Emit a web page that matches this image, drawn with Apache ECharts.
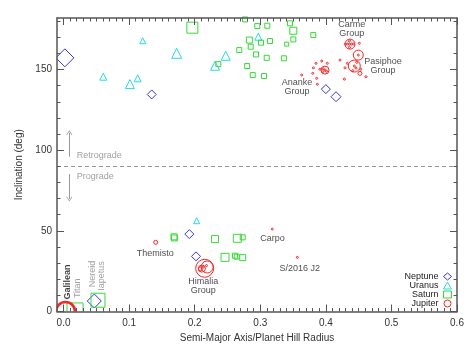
<!DOCTYPE html>
<html><head><meta charset="utf-8">
<script src="https://cdn.jsdelivr.net/npm/echarts@6/dist/echarts.min.js"></script>
<style>html,body{margin:0;padding:0;background:#fff}#c{width:474px;height:349px}</style>
</head><body><div id="c"></div>
<script>
// [semi-major axis / Hill radius, inclination (deg), relative marker scale]
const neptune = [[0.002,157.3,18],[0.1344,134.6,9],[0.400,137.9,9],[0.4155,133.2,10],[0.1918,48.0,9],[0.202,34.2,9],[0.0469,6.5,14]];
const uranus = [[0.0606,145.6,7],[0.1013,141.0,9],[0.113,144.6,7],[0.1207,167.9,6],[0.1725,160.1,10],[0.2473,158.6,9],[0.231,152.4,9],[0.297,170.4,7],[0.203,56.3,6]];
const saturn = [[0.1964,176.0,11],[0.2767,181.1,5],[0.2955,177.0,5],[0.3107,177.2,5],[0.3453,178.7,5],[0.3504,174.1,7],[0.3809,171.4,5],[0.3504,168.7,5],[0.3403,165.8,4],[0.2833,168.3,6],[0.3011,166.7,5],[0.3148,167.7,5],[0.2854,164.2,5],[0.268,162.1,5],[0.2935,159.4,5],[0.3098,157.3,5],[0.336,157.0,5],[0.236,153.4,5],[0.280,152.2,5],[0.2885,146.6,5],[0.3057,146.0,5],
  [0.1684,46.3,6],[0.169,45.6,6],[0.231,44.9,7],[0.265,45.4,8],[0.2732,46.0,5],[0.2462,33.6,8],[0.2615,34.6,5],[0.264,34.0,5],[0.2732,33.4,6],
  [0.0175,0.35,16],[0.0525,7.0,14]];
const jupiter = [[0.4368,165.8,10],[0.4495,159.0,10],[0.4434,152.2,12],[0.452,147.7,4],[0.3987,149.7,8],
  [0.2152,26.8,18],[0.219,27.6,12],[0.211,26.6,7],[0.2085,26.5,4],[0.1405,42.9,4],
  [0.3183,51.1,2],[0.3565,33.6,2],
  [0.430,165.8,2],[0.433,165.8,2],[0.436,165.8,2],[0.439,165.8,2],[0.442,165.9,2],[0.436,167.8,2],[0.436,163.8,2],
  [0.451,166.3,2],[0.4216,155.9,2],[0.4327,153.9,2],[0.4292,151.1,2],[0.447,154.5,2],[0.4532,150.2,2],[0.4612,145.6,2],[0.4282,144.1,2],[0.441,149.3,2],[0.4495,159.0,2],[0.4434,152.2,2],[0.446,151.0,2],
  [0.3632,146.6,2],[0.381,151.1,2],[0.380,147.7,2],[0.385,153.9,2],[0.3937,155.3,2],[0.4022,153.9,2],[0.391,150.2,2],[0.395,148.7,2],[0.386,144.6,2],[0.387,140.9,2],[0.3987,149.7,2],[0.396,150.5,2],[0.401,149.0,2],
  [0.213,27.5,2],[0.218,28.5,2]];
const galilean = [[0.003,0,19]];
const xMajor = [0,0.1,0.2,0.3,0.4,0.5,0.6];
const yMajor = [0,50,100,150];
const groupLabels = [
  {name:'Carme\nGroup', value:[0.4394,175.1]},
  {name:'Pasiphoe\nGroup', value:[0.487,152.5]},
  {name:'Ananke\nGroup', value:[0.356,138.9]},
  {name:'Himalia\nGroup', value:[0.2131,15.5]},
  {name:'Themisto', value:[0.14,36.1]},
  {name:'Carpo', value:[0.3187,45.0]},
  {name:'S/2016 J2', value:[0.3603,26.8]}
];
const rotLabels = [
  {name:'Galilean', value:[0.0055,18.3], dark:true},
  {name:'Titan', value:[0.021,14.4]},
  {name:'Nereid', value:[0.0444,23.2]},
  {name:'Iapetus', value:[0.0582,22.0]}
];
const dividerInc = 90;

const xMin=-0.01, xMax=0.6, yMin=0, yMax=182;
const xMinor=[]; for(let i=0;i<=60;i++) xMinor.push(+(i*0.01).toFixed(2));
const yMinor=[]; for(let v=0;v<=180;v+=10) yMinor.push(v);
const FONT='Liberation Sans';
const axisCol='#555';
const C = {nep:'#3333ff', ura:'#22dddd', sat:'#33dd33', jup:'#ff2222'};

function xa(pos, ticks, len, labels, line){
  return {type:'value', position:pos, min:xMin, max:xMax, z:10,
    axisLine:{show:line, onZero:false, lineStyle:{color:axisCol,width:1.5}},
    axisTick:{show:true, inside:true, length:len, customValues:ticks, lineStyle:{color:axisCol,width:1}},
    axisLabel:{show:labels, customValues:xMajor, formatter:v=>v.toFixed(1), margin:7, color:'#333', fontFamily:FONT, fontSize:10},
    splitLine:{show:false}};
}
function ya(pos, ticks, len, labels, line){
  return {type:'value', position:pos, min:yMin, max:yMax, z:10,
    axisLine:{show:line, onZero:false, lineStyle:{color:axisCol,width:1.5}},
    axisTick:{show:true, inside:true, length:len, customValues:ticks, lineStyle:{color:axisCol,width:1}},
    axisLabel:{show:labels, customValues:yMajor, margin:5, color:'#333', fontFamily:FONT, fontSize:10},
    splitLine:{show:false}};
}
const xAxes=[xa('bottom',xMajor,7,true,true), xa('bottom',xMinor,3.5,false,false), xa('top',xMajor,7,false,true), xa('top',xMinor,3.5,false,false)];
Object.assign(xAxes[0],{name:'Semi-Major Axis/Planet Hill Radius', nameLocation:'middle', nameGap:19, nameTextStyle:{color:'#333',fontFamily:FONT,fontSize:10}});
const yAxes=[ya('left',yMajor,7,true,true), ya('left',yMinor,3.5,false,false), ya('right',yMajor,7,false,true), ya('right',yMinor,3.5,false,false)];
Object.assign(yAxes[0],{name:'Inclination (deg)', nameLocation:'middle', nameGap:20, nameTextStyle:{color:'#333',fontFamily:FONT,fontSize:10}});

function sc(name, data, symbol, color, bw){
  return {name, type:'scatter', data, symbol, symbolSize:d=>d[2], z:3,
    itemStyle:{color:'rgba(0,0,0,0)', borderColor:color, borderWidth:bw||1, opacity:1},
    emphasis:{disabled:true}};
}
const chev='path://M5,0 L10,9 L9,10 L5,2.4 L1,10 L0,9 Z';
const series=[
  sc('Neptune',neptune,'diamond',C.nep),
  sc('Uranus',uranus,'triangle',C.ura),
  sc('Saturn',saturn,'rect',C.sat),
  sc('Jupiter',jupiter,'circle',C.jup),
  sc('GalileanMoons',galilean,'circle',C.jup,2.6),
  {type:'scatter', data:groupLabels, symbolSize:0, z:4, silent:true,
    label:{show:true, position:'inside', formatter:p=>p.name, color:'#222', fontFamily:FONT, fontSize:9, lineHeight:9, align:'center'}},
  {type:'scatter', data:rotLabels.map(r=>({name:r.name, value:r.value, label:{color:r.dark?'#111':'#888', fontWeight:r.dark?'bold':'normal'}})), symbolSize:0, z:4, silent:true,
    label:{show:true, position:'inside', rotate:90, formatter:p=>p.name, fontFamily:FONT, fontSize:9}},
  {type:'scatter', data:[], silent:true,
    markLine:{silent:true, symbol:'none', animation:false, label:{show:false},
      lineStyle:{color:'#999', type:[4,3], width:1},
      data:[{yAxis:dividerInc}]}},
  {type:'scatter', data:[], silent:true,
    markLine:{silent:true, symbol:['none',chev], symbolSize:[6,5], animation:false, label:{show:false},
      lineStyle:{color:'#999', type:'solid', width:1},
      data:[[{coord:[0.0088,96.0]},{coord:[0.0088,110.8]}],[{coord:[0.0088,85.2]},{coord:[0.0088,69.8]}]]}},
  {type:'scatter', data:[{name:'Retrograde',value:[0.02,96.6]},{name:'Prograde',value:[0.02,83.6]}], symbolSize:0, silent:true,
    label:{show:true, position:'right', distance:0, formatter:p=>p.name, color:'#888', fontFamily:FONT, fontSize:9}}
];

const chart=echarts.init(document.getElementById('c'),null,{renderer:'canvas'});
chart.setOption({
  animation:false,
  grid:{left:57, right:17, top:18, bottom:37.5, containLabel:false},
  xAxis:xAxes, yAxis:yAxes, series,
  legend:{orient:'vertical', right:22, top:272, z:20, align:'right', itemWidth:8, itemHeight:7, itemGap:0, padding:0,
    textStyle:{color:'#222', fontFamily:FONT, fontSize:9, lineHeight:7, padding:[0,0,0,0]},
    data:[
      {name:'Neptune', icon:'diamond', itemStyle:{color:'rgba(0,0,0,0)',borderColor:C.nep,borderWidth:1}},
      {name:'Uranus', icon:'triangle', itemStyle:{color:'rgba(0,0,0,0)',borderColor:C.ura,borderWidth:1}},
      {name:'Saturn', icon:'rect', itemStyle:{color:'rgba(0,0,0,0)',borderColor:C.sat,borderWidth:1}},
      {name:'Jupiter', icon:'circle', itemStyle:{color:'rgba(0,0,0,0)',borderColor:C.jup,borderWidth:1}}
    ]},
  graphic:[
    {type:'rect', z:5, silent:true, shape:{x:0,y:311.5,width:474,height:40}, style:{fill:'#fff'}},
    {type:'rect', z:5, silent:true, shape:{x:0,y:0,width:56.5,height:349}, style:{fill:'#fff'}}
  ]
});
</script></body></html>
